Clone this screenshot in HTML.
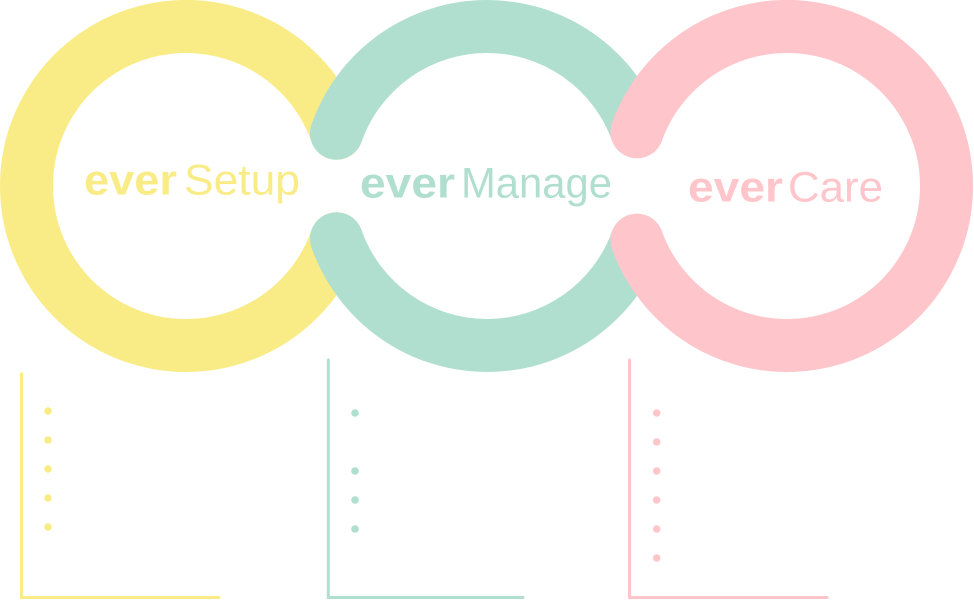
<!DOCTYPE html>
<html>
<head>
<meta charset="utf-8">
<style>
  html, body { margin: 0; padding: 0; background: #ffffff; }
  body { width: 974px; height: 600px; overflow: hidden; }
  svg { display: block; }
  text { font-family: "Liberation Sans", "DejaVu Sans", sans-serif; }
</style>
</head>
<body>
<svg width="974" height="600" viewBox="0 0 974 600" xmlns="http://www.w3.org/2000/svg">
  <!-- Yellow ring (bottom layer) -->
  <path d="M 336.5 133.2 A 159.5 159.5 0 1 0 336.5 238.8" fill="none" stroke="#F9EC87" stroke-width="53" stroke-linecap="round"/>
  <!-- Green ring: top and bottom arcs -->
  <path d="M 336.5 133.2 A 159.5 159.5 0 0 1 637 131.8" fill="none" stroke="#B0DFCF" stroke-width="53" stroke-linecap="round"/>
  <path d="M 637 240.2 A 159.5 159.5 0 0 1 336.5 238.8" fill="none" stroke="#B0DFCF" stroke-width="53" stroke-linecap="round"/>
  <!-- Pink ring (top layer) -->
  <path d="M 637 131.8 A 159.5 159.5 0 1 1 637 240.2" fill="none" stroke="#FEC6CB" stroke-width="53" stroke-linecap="round"/>

  <!-- Labels -->
  <text x="84" y="194.5" font-size="43" font-weight="bold" fill="#F9EC87" textLength="93" lengthAdjust="spacingAndGlyphs">ever</text>
  <text x="184" y="194.5" font-size="43" fill="#F9EC87" textLength="116" lengthAdjust="spacingAndGlyphs">Setup</text>

  <text x="360" y="197.3" font-size="43" font-weight="bold" fill="#B0DFCF" textLength="95" lengthAdjust="spacingAndGlyphs">ever</text>
  <text x="461" y="197.3" font-size="43" fill="#B0DFCF" textLength="151" lengthAdjust="spacingAndGlyphs">Manage</text>

  <text x="688" y="201.3" font-size="43" font-weight="bold" fill="#FEC6CB" textLength="95" lengthAdjust="spacingAndGlyphs">ever</text>
  <text x="788" y="201.3" font-size="43" fill="#FEC6CB" textLength="95" lengthAdjust="spacingAndGlyphs">Care</text>

  <!-- Yellow bracket -->
  <path d="M 21.5 374 L 21.5 597.5 L 219 597.5" fill="none" stroke="#F9EC87" stroke-width="3" stroke-linecap="round" stroke-linejoin="miter"/>
  <g fill="#F9EC87">
    <circle cx="48" cy="411" r="3.8"/>
    <circle cx="48" cy="440" r="3.8"/>
    <circle cx="48" cy="469" r="3.8"/>
    <circle cx="48" cy="498" r="3.8"/>
    <circle cx="48" cy="527" r="3.8"/>
  </g>

  <!-- Green bracket -->
  <path d="M 328.3 360 L 328.3 597.5 L 523 597.5" fill="none" stroke="#B0DFCF" stroke-width="3" stroke-linecap="round" stroke-linejoin="miter"/>
  <g fill="#B0DFCF">
    <circle cx="355" cy="413" r="3.8"/>
    <circle cx="355" cy="471" r="3.8"/>
    <circle cx="355" cy="500" r="3.8"/>
    <circle cx="355" cy="529" r="3.8"/>
  </g>

  <!-- Pink bracket -->
  <path d="M 629.5 360 L 629.5 597.5 L 827 597.5" fill="none" stroke="#FEC6CB" stroke-width="3" stroke-linecap="round" stroke-linejoin="miter"/>
  <g fill="#FEC6CB">
    <circle cx="656.7" cy="413" r="3.8"/>
    <circle cx="656.7" cy="442" r="3.8"/>
    <circle cx="656.7" cy="471" r="3.8"/>
    <circle cx="656.7" cy="500" r="3.8"/>
    <circle cx="656.7" cy="529" r="3.8"/>
    <circle cx="656.7" cy="558" r="3.8"/>
  </g>
</svg>
</body>
</html>
